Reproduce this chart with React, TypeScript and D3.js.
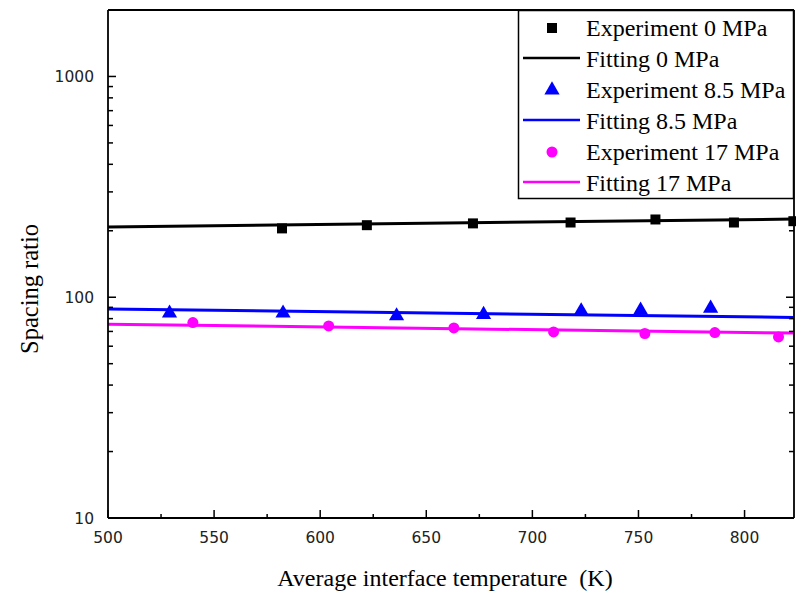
import React from "react";
import * as d3 from "d3";

// ---- data ----
const expT0 = [582, 622, 672, 718, 758, 795, 823];
const exp0 = [205, 212, 216, 218, 225, 218, 221];
const expT85 = [529, 582.5, 636, 677, 723, 751, 784];
const exp85 = [84.7, 84.7, 82.3, 83.5, 86.7, 87.3, 89.1];
const expT17 = [540, 604, 663, 710, 753, 786, 816];
const exp17 = [76.8, 74.1, 72.6, 69.6, 68.5, 69.2, 66.1];
const fitT = [500, 823.3];
const fit0 = [208, 226];
const fit85 = [88.5, 81];
const fit17 = [75.5, 68.8];
const xTicks = [500, 550, 600, 650, 700, 750, 800];
const yTicks = [10, 100, 1000];
const legendLabels = [
  "Experiment 0 MPa",
  "Fitting 0 MPa",
  "Experiment 8.5 MPa",
  "Fitting 8.5 MPa",
  "Experiment 17 MPa",
  "Fitting 17 MPa",
];

const W = 796;
const H = 592;
const L = 108, R = 794, T = 10, B = 518;

export default function App() {
  const x = d3.scaleLinear().domain([500, 823.3]).range([L, R]);
  const y = d3.scaleLog().domain([10, 2000]).range([B, T]);

  const line = d3
    .line<[number, number]>()
    .x((d) => x(d[0]))
    .y((d) => y(d[1]));

  const sq = d3.symbol(d3.symbolSquare, 100)()!;
  const tri = d3.symbol(d3.symbolTriangle, 100)()!;
  const circ = d3.symbol(d3.symbolCircle, 95)()!;

  const minorX = d3.range(525, 824, 50);
  const minorY: number[] = [];
  [10, 100, 1000].forEach((dec) => {
    for (let k = 2; k <= 9; k++) {
      const v = dec * k;
      if (v <= 2000) minorY.push(v);
    }
  });

  const series = [
    { t: expT0, v: exp0, fit: fit0, color: "#000000", sym: sq },
    { t: expT85, v: exp85, fit: fit85, color: "#0000ff", sym: tri },
    { t: expT17, v: exp17, fit: fit17, color: "#ff00ff", sym: circ },
  ];

  const tickFont = "DejaVu Sans, Verdana, sans-serif";
  const serif = "Liberation Serif, Times New Roman, serif";

  const legX = 518.5, legY = 10.5, legW = 275, legH = 188;
  const rowY = (i: number) => 28 + i * 31;

  return (
    <svg
      width={W}
      height={H}
      style={{ position: "absolute", left: 0, top: 0, background: "#fff" }}
    >
      <rect x={0} y={0} width={W} height={H} fill="#fff" />
      <defs>
        <clipPath id="plot">
          <rect x={L} y={T} width={R - L + 3} height={B - T} />
        </clipPath>
      </defs>

      {/* fitting lines and markers */}
      <g clipPath="url(#plot)">
        {series.map((s, i) => (
          <path
            key={"f" + i}
            d={line(fitT.map((t, j) => [t, s.fit[j]]) as [number, number][])!}
            fill="none"
            stroke={s.color}
            strokeWidth={3}
          />
        ))}
        {series.map((s, i) =>
          s.t.map((t, j) => (
            <path
              key={"m" + i + "-" + j}
              d={s.sym}
              transform={`translate(${x(t)},${y(s.v[j])})`}
              fill={s.color}
            />
          ))
        )}
      </g>

      {/* axes frame */}
      <g stroke="#000" strokeWidth={1.8} fill="none">
        <line x1={L} y1={T} x2={L} y2={B} />
        <line x1={L} y1={B} x2={R} y2={B} />
        <line x1={L} y1={T} x2={R} y2={T} />
        <line x1={R} y1={T} x2={R} y2={B} />
      </g>

      {/* ticks */}
      <g stroke="#000" strokeWidth={1.5}>
        {xTicks.map((t) => (
          <line key={"xt" + t} x1={x(t)} x2={x(t)} y1={B} y2={B - 8} />
        ))}
        {minorX.map((t) => (
          <line key={"xm" + t} x1={x(t)} x2={x(t)} y1={B} y2={B - 4} />
        ))}
        {yTicks.map((v) => (
          <g key={"yt" + v}>
            <line x1={L} x2={L + 8} y1={y(v)} y2={y(v)} />
            <line x1={R} x2={R - 8} y1={y(v)} y2={y(v)} />
          </g>
        ))}
        {minorY.map((v) => (
          <g key={"ym" + v}>
            <line x1={L} x2={L + 5} y1={y(v)} y2={y(v)} />
            <line x1={R} x2={R - 5} y1={y(v)} y2={y(v)} />
          </g>
        ))}
      </g>

      {/* tick labels */}
      <g fontFamily={tickFont} fontSize={15.5} fill="#222">
        {xTicks.map((t) => (
          <text key={"xl" + t} x={x(t)} y={543} textAnchor="middle">
            {t}
          </text>
        ))}
        {yTicks.map((v) => (
          <text key={"yl" + v} x={94} y={y(v) + 6} textAnchor="end">
            {v}
          </text>
        ))}
      </g>

      {/* axis titles */}
      <text
        x={(L + R) / 2 - 6}
        y={586}
        textAnchor="middle"
        fontFamily={serif}
        fontSize={24}
        fill="#000"
      >
        Average interface temperature {"\u00a0"}(K)
      </text>
      <text
        transform={`translate(38,${289}) rotate(-90)`}
        textAnchor="middle"
        fontFamily={serif}
        fontSize={24.5}
        fill="#000"
      >
        Spacing ratio
      </text>

      {/* legend */}
      <rect
        x={legX}
        y={legY}
        width={legW}
        height={legH}
        fill="#fff"
        stroke="#000"
        strokeWidth={1.5}
      />
      {legendLabels.map((lab, i) => {
        const s = series[Math.floor(i / 2)];
        const cy = rowY(i);
        return (
          <g key={"lg" + i}>
            {i % 2 === 0 ? (
              <path d={s.sym} transform={`translate(552,${cy})`} fill={s.color} />
            ) : (
              <line x1={523} x2={580} y1={cy - 1} y2={cy - 1} stroke={s.color} strokeWidth={2.5} />
            )}
            <text
              x={586}
              y={cy + 8}
              fontFamily={serif}
              fontSize={24}
              fill="#000"
            >
              {lab}
            </text>
          </g>
        );
      })}
    </svg>
  );
}
